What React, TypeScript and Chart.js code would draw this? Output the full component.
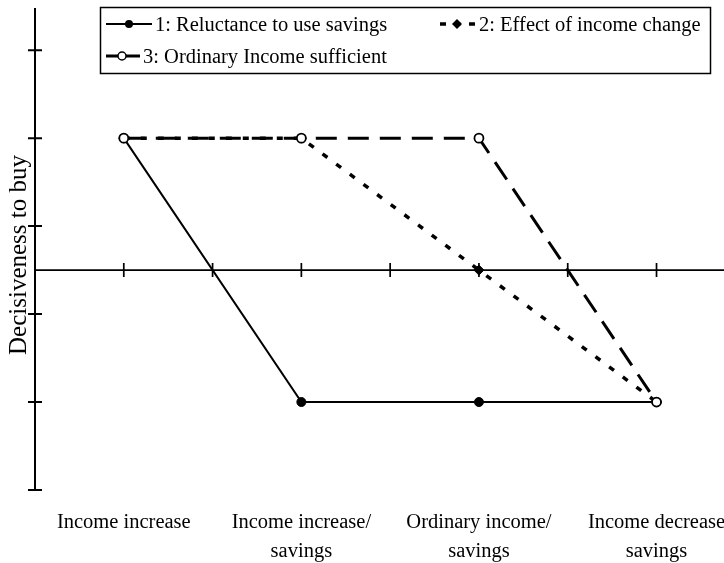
import React, { useEffect, useRef } from "react";
import { Chart, registerables } from "chart.js";

Chart.register(...registerables);

// ---- data ----
const categories = [
  "Income increase",
  "Income increase/ savings",
  "Ordinary income/ savings",
  "Income decrease savings",
];
const tickLabels: string[][] = [
  ["Income increase"],
  ["Income increase/", "savings"],
  ["Ordinary income/", "savings"],
  ["Income decrease", "savings"],
];
const seriesNames = [
  "1: Reluctance to use savings",
  "2: Effect of income change",
  "3: Ordinary Income sufficient",
];
const reluctance = [1.5, -1.5, -1.5, -1.5];
const incomeChange = [1.5, 1.5, 0, -1.5];
const ordinaryIncome = [1.5, 1.5, 1.5, -1.5];
const yTickValues = [2.5, 1.5, 0.5, -0.5, -1.5, -2.5];
const xTickValues = [0, 0.5, 1, 1.5, 2, 2.5, 3];
const yTitle = "Decisiveness to buy";

const FONT = '"Liberation Serif", "Times New Roman", serif';

const toPoints = (vals: number[]) => vals.map((y, i) => ({ x: i, y }));

const axesPlugin = {
  id: "crossAxes",
  beforeDatasetsDraw(chart: any) {
    const { ctx, chartArea: a, scales } = chart;
    const x = scales.x;
    const y = scales.y;
    ctx.save();
    ctx.strokeStyle = "#000";
    ctx.lineCap = "butt";
    // vertical axis
    ctx.lineWidth = 2;
    ctx.beginPath();
    ctx.moveTo(a.left, a.top);
    ctx.lineTo(a.left, a.bottom);
    yTickValues.forEach((v) => {
      const py = y.getPixelForValue(v);
      ctx.moveTo(a.left - 7, py);
      ctx.lineTo(a.left + 7, py);
    });
    ctx.stroke();
    // zero line
    const y0 = y.getPixelForValue(0);
    ctx.lineWidth = 1.7;
    ctx.beginPath();
    ctx.moveTo(a.left, y0);
    ctx.lineTo(a.right, y0);
    xTickValues.forEach((v) => {
      const px = x.getPixelForValue(v);
      ctx.moveTo(px, y0 - 7);
      ctx.lineTo(px, y0 + 7);
    });
    ctx.stroke();
    ctx.restore();
  },
};

const decorPlugin = {
  id: "decor",
  afterDraw(chart: any) {
    const { ctx } = chart;
    const ds = chart.data.datasets;
    ctx.save();
    // y title
    ctx.save();
    ctx.translate(26, 255);
    ctx.rotate(-Math.PI / 2);
    ctx.font = `25px ${FONT}`;
    ctx.fillStyle = "#000";
    ctx.textAlign = "center";
    ctx.textBaseline = "alphabetic";
    ctx.fillText(yTitle, 0, 0);
    ctx.restore();

    // legend box
    ctx.fillStyle = "#fff";
    ctx.fillRect(100, 7, 610, 66);
    ctx.strokeStyle = "#000";
    ctx.lineWidth = 1.5;
    ctx.strokeRect(100.5, 7.5, 610, 66);

    ctx.font = `20.5px ${FONT}`;
    ctx.fillStyle = "#000";
    ctx.textAlign = "left";
    ctx.textBaseline = "alphabetic";

    // item 1
    ctx.lineWidth = ds[0].borderWidth;
    ctx.beginPath();
    ctx.moveTo(106, 24);
    ctx.lineTo(152, 24);
    ctx.stroke();
    ctx.beginPath();
    ctx.arc(129, 24, 4, 0, Math.PI * 2);
    ctx.fill();
    ctx.fillText(ds[0].label, 155, 31);

    // item 2
    ctx.lineWidth = ds[1].borderWidth;
    ctx.setLineDash([6, 8.5]);
    ctx.beginPath();
    ctx.moveTo(440, 24);
    ctx.lineTo(475, 24);
    ctx.stroke();
    ctx.setLineDash([]);
    ctx.beginPath();
    ctx.moveTo(457, 19);
    ctx.lineTo(462, 24);
    ctx.lineTo(457, 29);
    ctx.lineTo(452, 24);
    ctx.closePath();
    ctx.fill();
    ctx.fillText(ds[1].label, 479, 31);

    // item 3
    ctx.lineWidth = ds[2].borderWidth;
    ctx.beginPath();
    ctx.moveTo(106, 56);
    ctx.lineTo(140, 56);
    ctx.stroke();
    ctx.beginPath();
    ctx.arc(122, 56, 4, 0, Math.PI * 2);
    ctx.fillStyle = "#fff";
    ctx.fill();
    ctx.lineWidth = 1.5;
    ctx.strokeStyle = "#000";
    ctx.stroke();
    ctx.fillStyle = "#000";
    ctx.fillText(ds[2].label, 143, 63);
    ctx.restore();
  },
};

export default function App() {
  const ref = useRef<HTMLCanvasElement>(null);
  useEffect(() => {
    const canvas = ref.current!;
    const chart = new Chart(canvas, {
      type: "line",
      data: {
        datasets: [
          {
            label: seriesNames[0],
            data: toPoints(reluctance),
            borderColor: "#000",
            backgroundColor: "#000",
            borderWidth: 2,
            pointStyle: "circle",
            pointRadius: 4.5,
            pointBackgroundColor: "#000",
            pointBorderColor: "#000",
            pointBorderWidth: 1,
            tension: 0,
            order: 3,
          },
          {
            label: seriesNames[1],
            data: toPoints(incomeChange),
            borderColor: "#000",
            backgroundColor: "#000",
            borderWidth: 3.5,
            borderDash: [6, 11],
            pointStyle: "rectRot",
            pointRadius: 5,
            pointBackgroundColor: "#000",
            pointBorderColor: "#000",
            pointBorderWidth: 1,
            tension: 0,
            order: 2,
          },
          {
            label: seriesNames[2],
            data: toPoints(ordinaryIncome),
            borderColor: "#000",
            backgroundColor: "#fff",
            borderWidth: 3,
            borderDash: [21, 11],
            pointStyle: "circle",
            pointRadius: 4.5,
            pointBackgroundColor: "#fff",
            pointBorderColor: "#000",
            pointBorderWidth: 1.8,
            tension: 0,
            order: 1,
          },
        ],
      },
      options: {
        animation: false,
        responsive: false,
        events: [],
        layout: {
          autoPadding: false,
          padding: { left: 35, right: 0, top: 8, bottom: 5.8 },
        },
        scales: {
          x: {
            type: "linear",
            min: -0.5,
            max: 3.38,
            afterBuildTicks: (s: any) => {
              s.ticks = categories.map((_, i) => ({ value: i }));
            },
            afterFit: (s: any) => {
              s.paddingLeft = 0;
              s.paddingRight = 0;
            },
            grid: { display: false, drawTicks: false },
            border: { display: false },
            ticks: {
              padding: 18,
              color: "#000",
              autoSkip: false,
              maxRotation: 0,
              font: { family: FONT, size: 20.5, lineHeight: 1.42 },
              callback: (v: any) => tickLabels[v] ?? "",
            },
          },
          y: {
            type: "linear",
            min: -2.5,
            max: 2.98,
            display: false,
          },
        },
        plugins: {
          legend: { display: false },
          tooltip: { enabled: false },
        },
      } as any,
      plugins: [axesPlugin, decorPlugin],
    });
    return () => chart.destroy();
  }, []);
  return (
    <div
      style={{
        position: "fixed",
        left: 0,
        top: 0,
        width: 724,
        height: 563,
        overflow: "hidden",
        background: "#fff",
      }}
    >
      <canvas ref={ref} width={724} height={590} style={{ display: "block" }} />
    </div>
  );
}
